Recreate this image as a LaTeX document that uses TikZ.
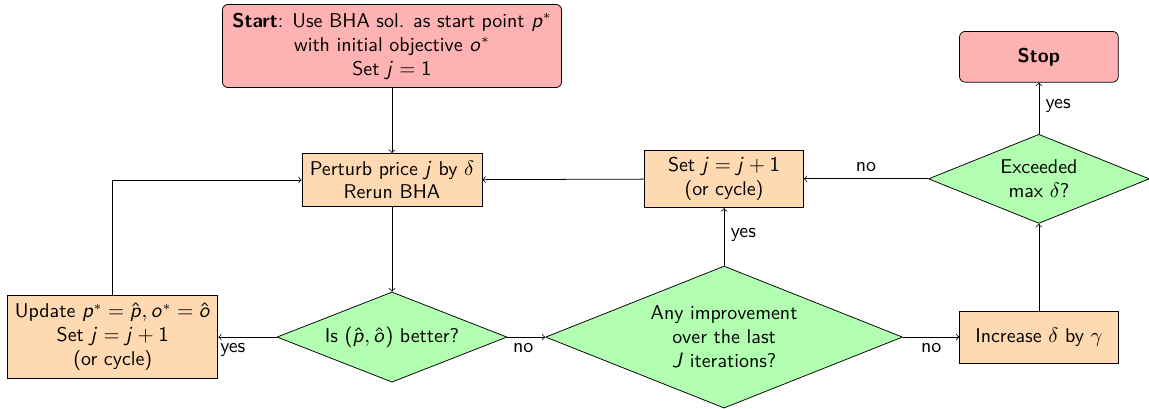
\documentclass[tikz,border=0pt]{standalone}
\usepackage{amsmath,amssymb}
\usepackage{tikz}
\usetikzlibrary{shapes, arrows, positioning, calc}
\renewcommand{\familydefault}{\sfdefault}
\DeclareSymbolFont{sfletters}{OT1}{cmss}{m}{sl}
\SetSymbolFont{operators}{normal}{OT1}{cmss}{m}{n}
\DeclareMathSymbol{p}{\mathalpha}{sfletters}{`p}
\DeclareMathSymbol{o}{\mathalpha}{sfletters}{`o}
\DeclareMathSymbol{j}{\mathalpha}{sfletters}{`j}
\DeclareMathSymbol{J}{\mathalpha}{sfletters}{`J}
\tikzset{
  every node/.style={font=\fontsize{10.5}{12.6}\selectfont},
  termbox/.style={rectangle, rounded corners=3pt, draw, fill=red!30, align=center},
  stepbox/.style={rectangle, draw, fill=orange!30, align=center},
  testbox/.style={diamond, aspect=2.5, draw, fill=green!30, align=center, inner sep=1pt},
}

\begin{document}
\begin{tikzpicture}[on grid]
	\useasboundingbox (0,0) rectangle (21.278,-7.556);
	\node[termbox, minimum width=6.28cm, minimum height=1.54cm] (start) at (7.259,-0.852)
		{\textbf{Start}: Use BHA sol. as start point $p^*$\\ with initial objective $o^*$\\ Set $j=1$};
	\node[stepbox, below=2.48cm of start, minimum width=3.33cm, minimum height=0.98cm] (perturb)
		{Perturb price $j$ by $\delta$\\ Rerun BHA};
	\node[testbox, below=2.91cm of perturb, minimum width=4.26cm, minimum height=1.67cm] (better)
		{Is $(\hat{p},\hat{o})$ better?};
		\node[stepbox, left=5.17cm of better, minimum width=3.89cm, minimum height=1.54cm] (update)
			{Update $p^*=\hat{p}, o^*=\hat{o}$\\ Set $j=j+1$\\ (or cycle)};
		\node[testbox, right=6.15cm of better, minimum width=6.61cm, minimum height=2.63cm] (any)
			{Any improvement\\ over the last\\ $J$ iterations?};
		\node[stepbox, above=2.93cm of any, minimum width=2.94cm, minimum height=1.07cm] (setj)
			{Set $j=j+1$\\ (or cycle)};
		\node[stepbox, right=5.83cm of any, minimum width=2.93cm, minimum height=0.96cm] (increase)
			{Increase $\delta$ by $\gamma$};
		\node[testbox, above=2.93cm of increase, minimum width=4.09cm, minimum height=1.65cm] (exceeded)
			{Exceeded\\ max $\delta$?};
		\node[termbox, above=2.26cm of exceeded, minimum width=2.94cm, minimum height=0.94cm] (stop)
			{\textbf{Stop}};
	\foreach \from/\to in {start/perturb,perturb/better,setj/perturb,increase/exceeded}
		\draw[->] (\from) -- (\to);
	\foreach \from/\to/\lab/\side/\where in {better/update/yes/below/0.75, better/any/no/below/0.42,
			any/setj/yes/right/0.53, any/increase/no/below/0.5,
			exceeded/setj/no/above/0.5, exceeded/stop/yes/right/0.54}
		\draw[->] (\from) -- node[\side, pos=\where] {\lab} (\to);
	\draw[->] (update.north) |- (perturb.west);
\end{tikzpicture}
\end{document}
